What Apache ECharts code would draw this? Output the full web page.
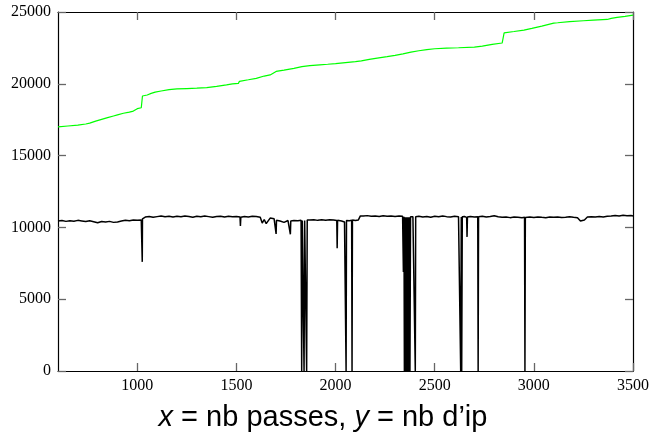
<!DOCTYPE html>
<html>
<head>
<meta charset="utf-8">
<script src="https://cdn.jsdelivr.net/npm/echarts@6/dist/echarts.min.js"></script>
<style>html,body{margin:0;padding:0;background:#fff}#c{width:654px;height:435px}</style>
</head>
<body>
<div id="c"></div>
<script>
const xTicks = [1000, 1500, 2000, 2500, 3000, 3500];
const yTicks = [0, 5000, 10000, 15000, 20000, 25000];
const titleText = '{i|x} = nb passes, {i|y} = nb d’ip';

const greenSeries = [
 [600,17000],[650,17060],[700,17120],[740,17200],[760,17260],[770,17330],[790,17400],[820,17520],
 [850,17640],[880,17760],[900,17840],[930,17950],[960,18030],[980,18100],[990,18200],[1000,18270],
 [1020,18330],[1025,18360],[1026,19150],[1050,19220],[1070,19330],[1090,19420],[1120,19500],
 [1160,19590],[1200,19640],[1250,19670],[1300,19700],[1350,19740],[1400,19820],[1450,19920],
 [1480,19990],[1510,20030],[1515,20170],[1520,20200],[1560,20280],[1600,20380],[1640,20540],
 [1670,20620],[1680,20740],[1700,20860],[1740,20950],[1790,21080],[1830,21200],[1870,21270],
 [1920,21320],[1960,21360],[2000,21410],[2050,21480],[2100,21550],[2130,21600],[2170,21700],
 [2210,21790],[2260,21890],[2300,21980],[2340,22080],[2380,22200],[2420,22300],[2460,22380],
 [2500,22440],[2560,22480],[2620,22510],[2700,22560],[2740,22620],[2790,22740],[2840,22840],
 [2848,22880],[2850,23550],[2900,23640],[2950,23740],[2990,23860],[3040,24020],[3100,24230],
 [3120,24250],[3180,24330],[3250,24390],[3300,24430],[3370,24480],[3390,24560],[3420,24620],
 [3460,24690],[3500,24780]
];

const blackSeries = [
 [600,10440],[620,10480],[640,10420],[660,10470],[680,10430],[700,10490],[720,10450],[740,10410],
 [760,10460],[780,10400],[800,10320],[820,10410],[840,10370],[860,10420],[880,10350],[890,10290],
 [900,10380],[920,10440],[940,10500],[960,10470],[980,10520],[1000,10490],[1020,10510],[1024,10480],
 [1025,7600],[1026,10600],[1040,10720],[1060,10760],[1080,10700],[1100,10750],[1120,10800],
 [1140,10740],[1160,10780],[1180,10720],[1200,10770],[1220,10740],[1240,10800],[1260,10760],
 [1280,10710],[1300,10770],[1320,10740],[1340,10790],[1360,10750],[1380,10700],[1400,10760],
 [1420,10780],[1440,10720],[1460,10770],[1480,10740],[1500,10760],[1518,10720],[1520,10100],
 [1522,10700],[1540,10760],[1560,10730],[1580,10780],[1600,10760],[1610,10840],[1620,10700],
 [1630,10300],[1640,10550],[1650,10260],[1660,10380],[1670,10650],[1680,10700],[1690,10600],
 [1700,9550],[1702,10500],[1710,10600],[1720,10450],[1730,10380],[1740,10350],[1750,10420],
 [1760,10480],[1770,10400],[1772,9520],[1774,10450],[1790,10480],[1810,10460],[1826,10500],
 [1829,0],[1832,10480],[1838,10500],[1841,0],[1844,10480],[1851,10500],[1854,0],[1857,10520],
 [1870,10510],[1890,10540],[1910,10490],[1930,10530],[1950,10500],[1970,10540],[1990,10510],
 [2006,10480],[2008,8550],[2010,10500],[2030,10450],[2045,10380],[2051,10450],[2053,0],[2055,10480],
 [2070,10470],[2081,10500],[2083,0],[2085,10520],[2100,10480],[2115,10520],[2125,10800],
 [2140,10790],[2160,10820],[2180,10770],[2200,10800],[2220,10760],[2240,10810],[2260,10780],
 [2280,10800],[2300,10760],[2320,10790],[2338,10780],[2342,6900],[2345,10750],[2347,0],[2350,10700],
 [2354,0],[2357,10700],[2361,0],[2364,10700],[2368,0],[2371,10700],[2375,0],[2378,10750],
 [2390,10740],[2400,10760],[2402,0],[2404,10740],[2420,10780],[2440,10730],[2460,10760],
 [2480,10710],[2500,10770],[2520,10740],[2540,10790],[2560,10750],[2580,10720],[2600,10770],
 [2620,10740],[2629,10720],[2631,0],[2634,10720],[2636,0],[2639,10740],[2650,10760],[2661,10700],
 [2663,9340],[2665,10720],[2680,10760],[2700,10730],[2717,10750],[2719,0],[2721,10740],
 [2740,10770],[2760,10720],[2780,10760],[2800,10810],[2820,10740],[2840,10700],[2860,10730],
 [2880,10680],[2900,10720],[2920,10700],[2940,10680],[2953,10700],[2955,0],[2957,10690],
 [2980,10720],[3000,10690],[3020,10730],[3040,10700],[3060,10680],[3080,10720],[3100,10700],
 [3120,10730],[3140,10690],[3160,10710],[3180,10740],[3200,10700],[3220,10680],[3235,10450],
 [3245,10420],[3255,10520],[3270,10720],[3290,10750],[3310,10720],[3330,10760],[3350,10730],
 [3370,10770],[3390,10790],[3410,10830],[3430,10800],[3450,10840],[3470,10810],[3490,10830],
 [3500,10800]
];

const chart = echarts.init(document.getElementById('c'));
const serif = 'Liberation Serif';
function tick(vals) {
  return {show: true, inside: true, length: 8, customValues: vals, lineStyle: {color: '#666', width: 1.3}};
}
function aline() { return {show: true, onZero: false, lineStyle: {color: '#000', width: 1.2}}; }
function plain(v) { return String(v); }
chart.setOption({
  animation: false,
  backgroundColor: '#fff',
  grid: {left: 58, right: 21, top: 12, bottom: 64},
  xAxis: [
    {type: 'value', min: 600, max: 3500, position: 'bottom',
     axisLine: aline(), splitLine: {show: false}, axisTick: tick(xTicks),
     axisLabel: {customValues: xTicks, formatter: plain, fontFamily: serif, fontSize: 16, color: '#000', margin: 7}},
    {type: 'value', min: 600, max: 3500, position: 'top',
     axisLine: aline(), splitLine: {show: false}, axisTick: tick(xTicks),
     axisLabel: {show: false}}
  ],
  yAxis: [
    {type: 'value', min: 0, max: 25000, interval: 5000, position: 'left',
     axisLine: aline(), splitLine: {show: false}, axisTick: tick(yTicks),
     axisLabel: {customValues: yTicks, formatter: plain, fontFamily: serif, fontSize: 16, color: '#000', margin: 7}},
    {type: 'value', min: 0, max: 25000, interval: 5000, position: 'right',
     axisLine: aline(), splitLine: {show: false}, axisTick: tick(yTicks),
     axisLabel: {show: false}}
  ],
  series: [
    {type: 'line', data: blackSeries, showSymbol: false, symbol: 'none',
     lineStyle: {color: '#000', width: 1.5}, xAxisIndex: 0, yAxisIndex: 0, z: 3},
    {type: 'line', data: greenSeries, showSymbol: false, symbol: 'none',
     lineStyle: {color: '#00ff00', width: 1.2}, xAxisIndex: 0, yAxisIndex: 0, z: 2}
  ],
  graphic: [{
    type: 'text', x: 323, y: 418,
    style: {
      text: titleText, align: 'center', verticalAlign: 'middle',
      fontFamily: 'Liberation Sans', fontSize: 29, fill: '#000',
      rich: {i: {fontStyle: 'italic', fontFamily: 'Liberation Sans', fontSize: 29, fill: '#000'}}
    }
  }]
});
</script>
</body>
</html>
